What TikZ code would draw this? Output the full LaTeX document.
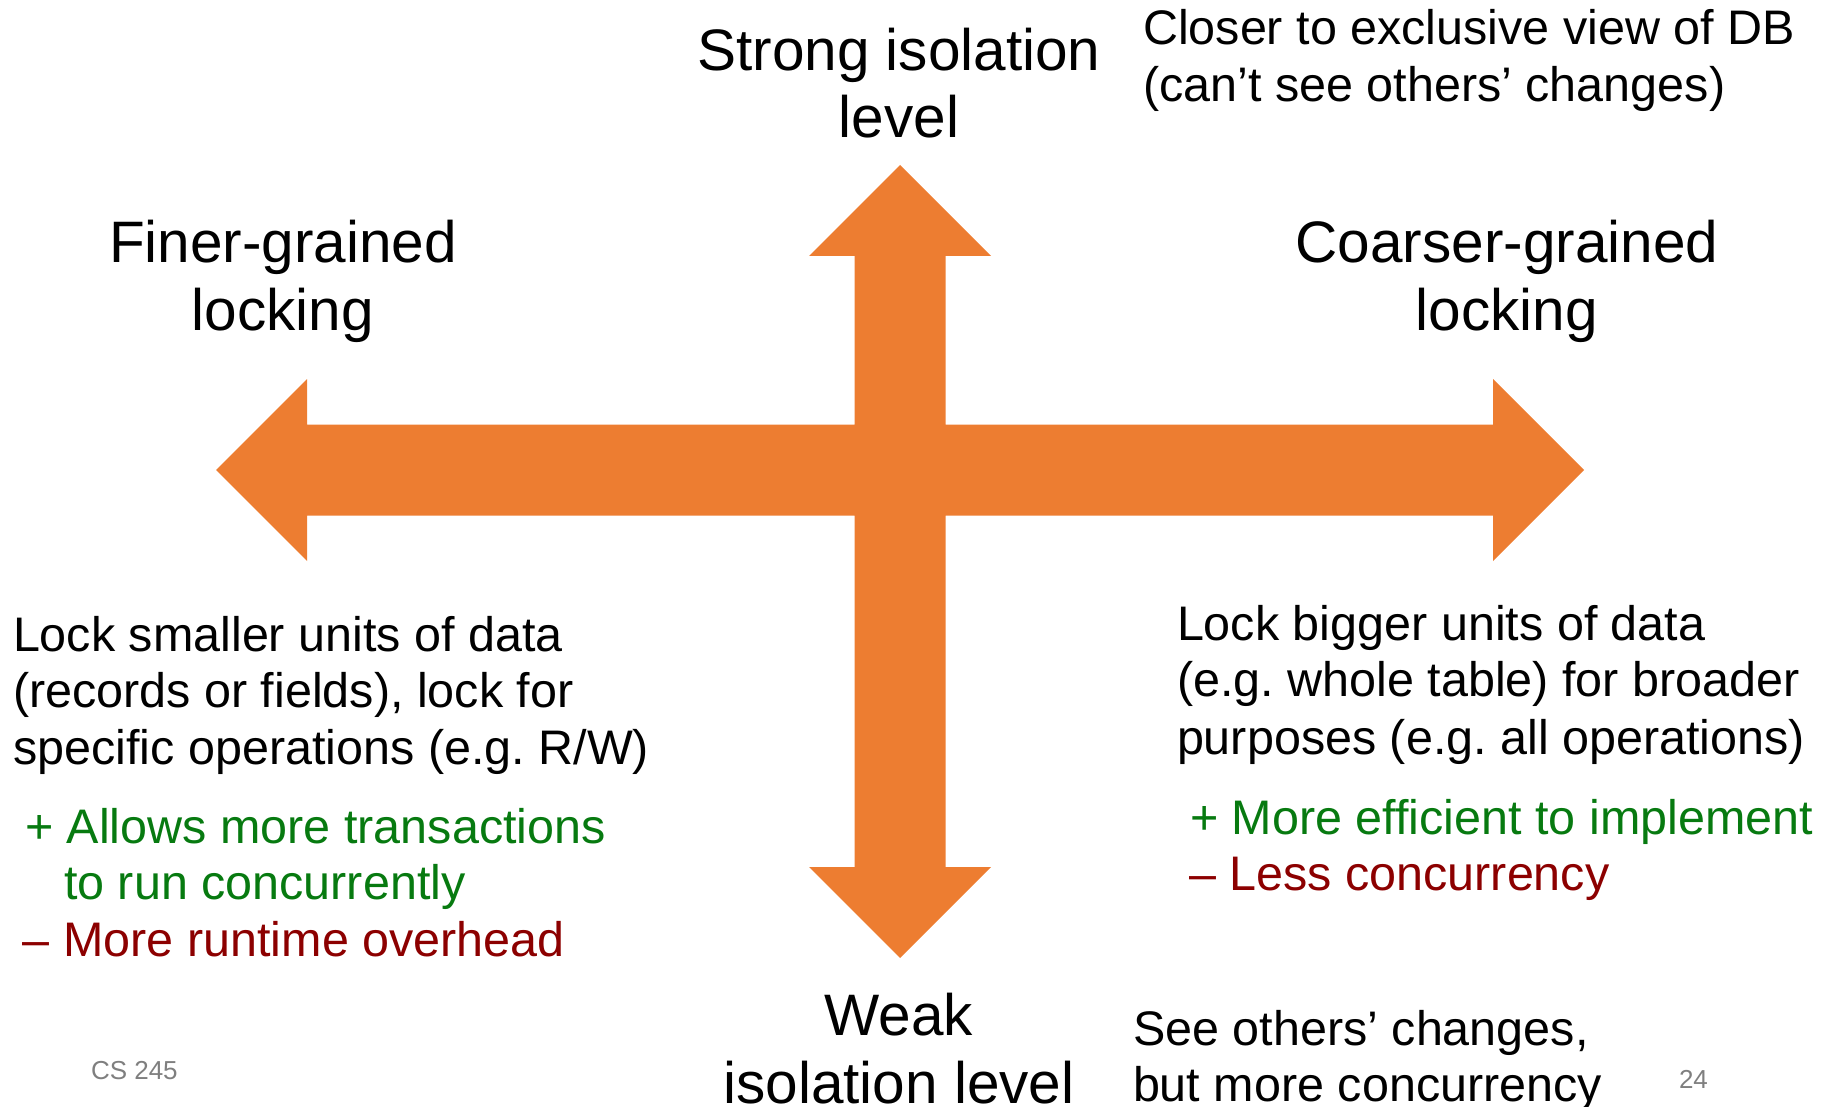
\documentclass[tikz,border=0pt]{standalone}
\usepackage{fontspec}
\setmainfont{Liberation Sans}
\frenchspacing
\definecolor{arroworange}{HTML}{ED7D31}
\definecolor{progreen}{HTML}{077A10}
\definecolor{conred}{HTML}{8C0000}
\definecolor{footgray}{HTML}{7F7F7F}
\begin{document}
\begin{tikzpicture}[x=1pt,y=-1pt,
  every node/.style={inner sep=0pt, outer sep=0pt},
  bigtxt/.style={font=\fontsize{58.5}{68}\selectfont, anchor=base},
  bodytxt/.style={font=\fontsize{48.5}{57}\selectfont, anchor=base west},
  protxt/.style={bodytxt, text=progreen},
  contxt/.style={bodytxt, text=conred},
  foottxt/.style={font=\fontsize{26}{30}\selectfont, text=footgray, anchor=base west}
]
\useasboundingbox (0,0) rectangle (1833,1107);
\coordinate (ctr) at (900,470);
% the four-way arrow
\fill[arroworange] (900,165) -- (991,256) -- (945.5,256) -- (945.5,424.5) -- (1493,424.5) -- (1493,379)
  -- (1584,470) -- (1493,561) -- (1493,515.5) -- (945.5,515.5) -- (945.5,867) -- (991,867)
  -- (900,958) -- (809,867) -- (854.5,867) -- (854.5,515.5) -- (307,515.5) -- (307,561)
  -- (216,470) -- (307,379) -- (307,424.5) -- (854.5,424.5) -- (854.5,256) -- (809,256) -- cycle;
% axis labels
\node[bigtxt] (strong1) at (899,71) {Strong isolation};
\node[bigtxt] (strong2) at (899,138) {level};
\node[bigtxt] (weak1) at (899,1035) {Weak};
\node[bigtxt] (weak2) at (899,1103) {isolation level};
\node[bigtxt] (finer1) at (283,262) {Finer-grained};
\node[bigtxt] (finer2) at (283,330) {locking};
\node[bigtxt] (coarse1) at (1507,262) {Coarser-grained};
\node[bigtxt] (coarse2) at (1507,330) {locking};
% top right note
\node[bodytxt] (close1) at (1143,45) {Closer to exclusive view of DB};
\node[bodytxt] (close2) at (1143,102) {(can’t see others’ changes)};
% bottom right note
\node[bodytxt] (see1) at (1133,1045) {See others’ changes,};
\node[bodytxt] (see2) at (1133,1101) {but more concurrency};
% left description
\node[bodytxt] (fdesc1) at (13,651) {Lock smaller units of data};
\node[bodytxt] (fdesc2) at (13,707) {(records or fields), lock for};
\node[bodytxt] (fdesc3) at (13,764) {specific operations (e.g. R/W)};
\node[protxt] (fpro1) at (25,843) {+ Allows more transactions};
\node[protxt] (fpro2) at (64,899) {to run concurrently};
\node[contxt] (fcon) at (23,956) {– More runtime overhead};
% right description
\node[bodytxt] (cdesc1) at (1177,640) {Lock bigger units of data};
\node[bodytxt] (cdesc2) at (1177,696) {(e.g. whole table) for broader};
\node[bodytxt] (cdesc3) at (1177,754) {purposes (e.g. all operations)};
\node[protxt] (cpro) at (1190,834) {+ More efficient to implement};
\node[contxt] (ccon) at (1189,890) {– Less concurrency};
% footer
\node[foottxt] (course) at (91,1079) {CS 245};
\node[foottxt] (page) at (1679,1088) {24};
\end{tikzpicture}
\end{document}
